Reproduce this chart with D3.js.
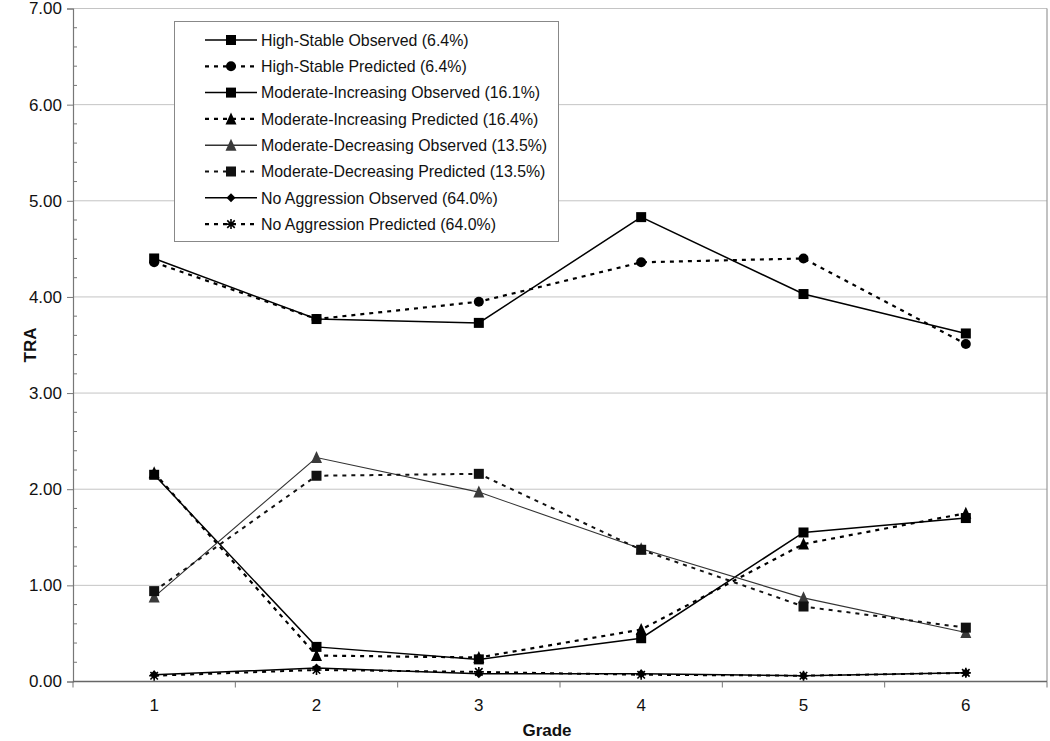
<!DOCTYPE html>
<html>
<head>
<meta charset="utf-8">
<script src="https://cdn.jsdelivr.net/npm/d3@7"></script>
<style>
html,body{margin:0;padding:0;background:#fff;}
svg{display:block;font-family:"Liberation Sans",Arial,sans-serif;}
</style>
</head>
<body>
<svg id="chart" width="1050" height="741"></svg>
<script>
// ---- data ----
const grades = [1, 2, 3, 4, 5, 6];
const yTicks = [0, 1, 2, 3, 4, 5, 6, 7];
const seriesNames = [
  "High-Stable Observed (6.4%)",
  "High-Stable Predicted (6.4%)",
  "Moderate-Increasing Observed (16.1%)",
  "Moderate-Increasing Predicted (16.4%)",
  "Moderate-Decreasing Observed (13.5%)",
  "Moderate-Decreasing Predicted (13.5%)",
  "No Aggression Observed (64.0%)",
  "No Aggression Predicted (64.0%)"
];
const hsObs  = [4.40, 3.77, 3.73, 4.83, 4.03, 3.62];
const hsPred = [4.36, 3.77, 3.95, 4.36, 4.40, 3.51];
const miObs  = [2.15, 0.36, 0.23, 0.45, 1.55, 1.70];
const miPred = [2.17, 0.27, 0.25, 0.54, 1.43, 1.75];
const mdObs  = [0.88, 2.33, 1.97, 1.38, 0.87, 0.51];
const mdPred = [0.94, 2.14, 2.16, 1.37, 0.78, 0.56];
const naObs  = [0.07, 0.14, 0.08, 0.08, 0.06, 0.09];
const naPred = [0.06, 0.12, 0.10, 0.07, 0.06, 0.09];

(function () {
// styles (separate from data)
const styles = [
  {values: hsObs,  dash: null,  stroke: "#000", width: 1.5, marker: "square",   fill: "#000", size: 10},
  {values: hsPred, dash: "4,5", stroke: "#000", width: 2.2, marker: "circle",   fill: "#000", size: 10},
  {values: miObs,  dash: null,  stroke: "#000", width: 1.5, marker: "square",   fill: "#000", size: 10},
  {values: miPred, dash: "4,5", stroke: "#000", width: 2.2, marker: "triangle", fill: "#000", size: 11},
  {values: mdObs,  dash: null,  stroke: "#333", width: 1.1, marker: "triangle", fill: "#3a3a3a", size: 11},
  {values: mdPred, dash: "4,5", stroke: "#111", width: 2.0, marker: "square",   fill: "#111", size: 10},
  {values: naObs,  dash: null,  stroke: "#000", width: 1.5, marker: "diamond",  fill: "#000", size: 9},
  {values: naPred, dash: "4,5", stroke: "#000", width: 2.0, marker: "star",     fill: "#000", size: 10}
];

const svg = d3.select("#chart");
const pLeft = 73, pRight = 1047, pTop = 8.5, pBottom = 681.5;

const x = d3.scaleBand().domain(grades).range([pLeft, pRight]).padding(0);
const y = d3.scaleLinear().domain([0, 7]).range([pBottom, pTop]);
const cx = g => x(g) + x.bandwidth() / 2;

// gridlines
svg.append("g").selectAll("line").data(yTicks.filter(t => t > 0)).join("line")
  .attr("x1", pLeft).attr("x2", pRight)
  .attr("y1", d => y(d)).attr("y2", d => y(d))
  .attr("stroke", "#c4c4c4").attr("stroke-width", 1);

// right border of plot
svg.append("line").attr("x1", pRight).attr("x2", pRight).attr("y1", pTop).attr("y2", pBottom)
  .attr("stroke", "#999").attr("stroke-width", 1.2);

// y axis
const yAxis = d3.axisLeft(y).tickValues(yTicks).tickFormat(d3.format(".2f")).tickSize(6).tickPadding(5);
const gy = svg.append("g").attr("transform", `translate(${pLeft},0)`).call(yAxis);
gy.select(".domain").attr("stroke", "#777").attr("stroke-width", 1.2);
gy.selectAll(".tick line").attr("stroke", "#777");
gy.selectAll("text").attr("font-size", 17).attr("fill", "#111")
  .attr("font-family", "'Liberation Sans', Arial, sans-serif");
// minor ticks (inside)
const minor = d3.range(0, 7.0001, 0.2).filter(v => Math.abs(v - Math.round(v)) > 0.01);
svg.append("g").selectAll("line").data(minor).join("line")
  .attr("x1", pLeft).attr("x2", pLeft + 4)
  .attr("y1", d => y(d)).attr("y2", d => y(d))
  .attr("stroke", "#777").attr("stroke-width", 1);

// x axis
const xAxis = d3.axisBottom(x).tickSize(0).tickPadding(17);
const gx = svg.append("g").attr("transform", `translate(0,${pBottom})`).call(xAxis);
gx.select(".domain").remove();
gx.selectAll("text").attr("font-size", 17).attr("fill", "#111")
  .attr("font-family", "'Liberation Sans Narrow', 'Liberation Sans', Arial, sans-serif");
svg.append("line").attr("x1", pLeft).attr("x2", pRight).attr("y1", pBottom).attr("y2", pBottom)
  .attr("stroke", "#666").attr("stroke-width", 1.4);
// x tick marks at category boundaries
const bounds = grades.map(g => x(g)).concat([pRight]);
svg.append("g").selectAll("line").data(bounds).join("line")
  .attr("x1", d => d).attr("x2", d => d)
  .attr("y1", pBottom).attr("y2", pBottom + 6)
  .attr("stroke", "#777").attr("stroke-width", 1);

// axis titles
svg.append("text").attr("x", (pLeft + pRight) / 2 - 13).attr("y", 736)
  .attr("text-anchor", "middle").attr("font-size", 17).attr("font-weight", "bold").attr("fill", "#111")
  .text("Grade");
svg.append("text").attr("transform", "translate(36,345) rotate(-90)")
  .attr("text-anchor", "middle").attr("font-size", 17).attr("font-weight", "bold").attr("fill", "#111")
  .text("TRA");

// marker drawer
function drawMarker(g, type, px, py, size, fill) {
  const s = size / 2;
  if (type === "square") {
    g.append("rect").attr("x", px - s).attr("y", py - s).attr("width", size).attr("height", size).attr("fill", fill);
  } else if (type === "circle") {
    g.append("circle").attr("cx", px).attr("cy", py).attr("r", s).attr("fill", fill);
  } else if (type === "triangle") {
    g.append("path").attr("d", `M${px},${py - s - 1}L${px + s},${py + s}L${px - s},${py + s}Z`).attr("fill", fill);
  } else if (type === "diamond") {
    g.append("path").attr("d", `M${px},${py - s}L${px + s},${py}L${px},${py + s}L${px - s},${py}Z`).attr("fill", fill);
  } else if (type === "star") {
    const d = s * 0.75;
    g.append("path")
      .attr("d", `M${px},${py - s}L${px},${py + s}M${px - d},${py - d}L${px + d},${py + d}M${px - d},${py + d}L${px + d},${py - d}M${px - s},${py}L${px + s},${py}`)
      .attr("stroke", fill).attr("stroke-width", 1.6).attr("fill", "none");
  }
}

// series
const line = d3.line().x((d, i) => cx(grades[i])).y(d => y(d));
const plot = svg.append("g");
styles.forEach(st => {
  const g = plot.append("g");
  g.append("path").attr("d", line(st.values)).attr("fill", "none")
    .attr("stroke", st.stroke).attr("stroke-width", st.width)
    .attr("stroke-dasharray", st.dash);
  st.values.forEach((v, i) => drawMarker(g, st.marker, cx(grades[i]), y(v), st.size, st.fill));
});

// legend
const lg = svg.append("g");
lg.append("rect").attr("x", 174.5).attr("y", 21.5).attr("width", 384).attr("height", 220)
  .attr("fill", "#fff").attr("stroke", "#888").attr("stroke-width", 1);
seriesNames.forEach((name, i) => {
  const st = styles[i];
  const ry = 40 + i * 26.3;
  lg.append("line").attr("x1", 205).attr("x2", 257).attr("y1", ry).attr("y2", ry)
    .attr("stroke", st.stroke).attr("stroke-width", st.dash ? 2.2 : 1.5)
    .attr("stroke-dasharray", st.dash ? "4,5" : null);
  drawMarker(lg, st.marker, 231, ry, st.size, st.fill);
  lg.append("text").attr("x", 261).attr("y", ry + 5.8).attr("font-size", 15.9).attr("fill", "#111")
    .text(name);
});
})();
</script>
</body>
</html>
